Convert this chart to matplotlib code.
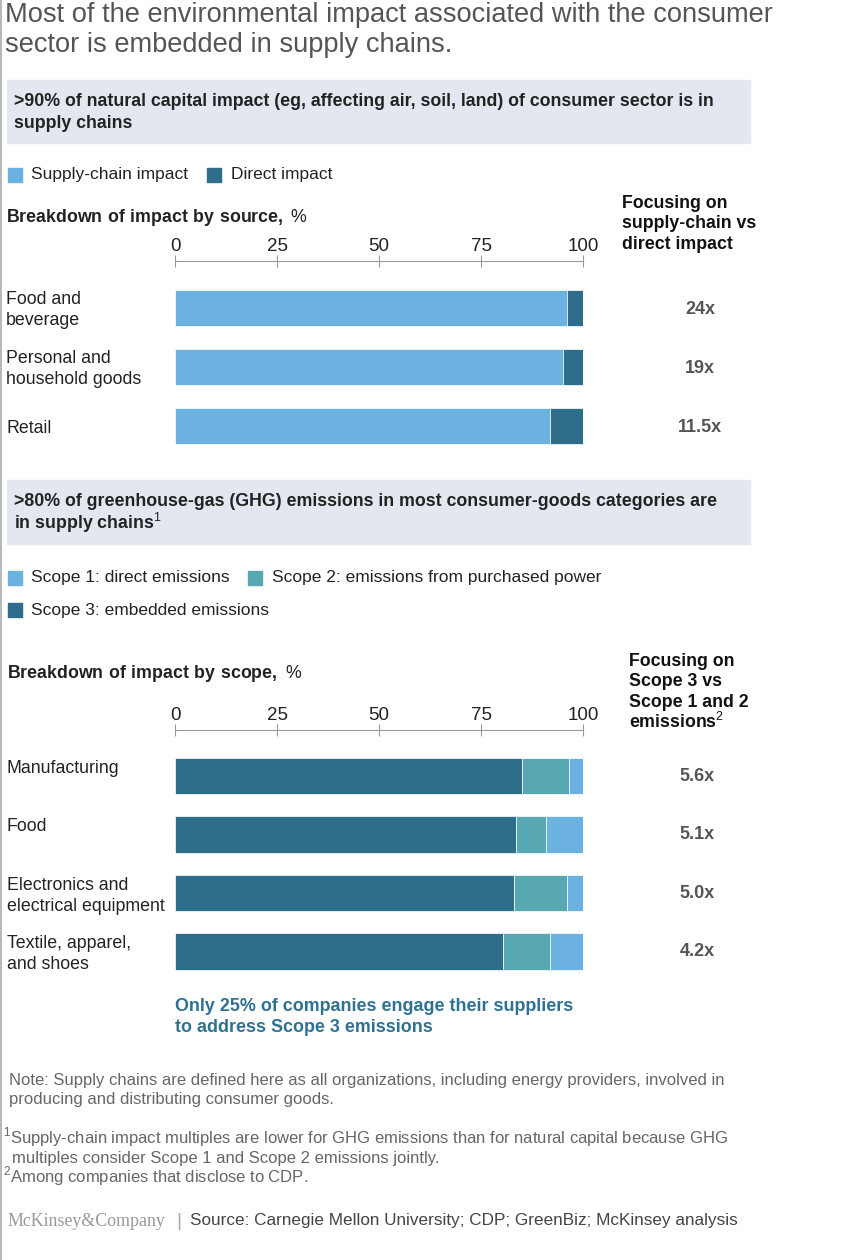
import matplotlib.pyplot as plt
from matplotlib.patches import Rectangle
from matplotlib.lines import Line2D
import matplotlib.transforms as mtransforms

# ---- data ----
sectors = ['Food and\nbeverage', 'Personal and\nhousehold goods', 'Retail']
supply_chain = [96, 95, 92]
direct = [4, 5, 8]
multiples_1 = ['24x', '19x', '11.5x']

categories = ['Manufacturing', 'Food', 'Electronics and\nelectrical equipment',
              'Textile, apparel,\nand shoes']
scope3 = [85, 83.5, 83, 80.5]
scope2 = [11.5, 7.5, 13, 11.5]
scope1 = [3.5, 9, 4, 8]
multiples_2 = ['5.6x', '5.1x', '5.0x', '4.2x']

ticks = [0, 25, 50, 75, 100]

LIGHT = '#6cb2e0'
DARK = '#2f6e8a'
MID = '#57a8b3'
BOX = '#e3e8f0'

W, H = 863, 1260
plt.rcParams['font.family'] = ['Liberation Sans', 'DejaVu Sans']
plt.rcParams['mathtext.fontset'] = 'custom'
plt.rcParams['mathtext.rm'] = 'Liberation Sans'
plt.rcParams['mathtext.bf'] = 'Liberation Sans:bold'
fig = plt.figure(figsize=(W / 100, H / 100), dpi=100)


def fx(x): return x / W
def fy(y): return 1 - y / H


def txt(x, y, s, **kw):
    kw.setdefault('va', 'center')
    kw.setdefault('color', '#222222')
    return fig.text(fx(x), fy(y), s, **kw)


def box(y0, y1):
    fig.patches.append(Rectangle((fx(7), fy(y1)), fx(750) - fx(7), fy(y0) - fy(y1),
                                 transform=fig.transFigure, color=BOX, zorder=0))


def legend_sq(x, y, c):
    fig.patches.append(Rectangle((fx(x), fy(y + 7)), 14 / W, 14 / H,
                                 transform=fig.transFigure, color=c))


def bar_axes(top, bottom, first, step, n):
    ax = fig.add_axes([fx(175), fy(bottom), fx(583) - fx(175), fy(top) - fy(bottom)])
    ax.set_xlim(0, 100)
    ax.set_ylim((bottom - first) / step, (top - first) / step)
    ax.xaxis.tick_top()
    ax.set_xticks(ticks)
    ax.tick_params(axis='x', direction='inout', length=9, color='#999999',
                   labelsize=13.5, labelcolor='#222222', pad=0)
    ax.set_yticks([])
    for s in ['left', 'right', 'bottom']:
        ax.spines[s].set_visible(False)
    ax.spines['top'].set_color('#999999')
    ax.patch.set_alpha(0)
    return ax


# left border
fig.add_artist(Line2D([fx(1), fx(1)], [0, 1], color='#aaaaaa', lw=1.2))

# title
txt(5, 15, 'Most of the environmental impact associated with the consumer', fontsize=19.6, color='#555555')
txt(5, 45, 'sector is embedded in supply chains.', fontsize=19.6, color='#555555')

# ---- panel 1 ----
box(80, 143)
txt(14, 102, '>90% of natural capital impact (eg, affecting air, soil, land) of consumer sector is in',
    fontsize=12.8, fontweight='bold')
txt(14, 123, 'supply chains', fontsize=12.8, fontweight='bold')

legend_sq(8, 175, LIGHT)
txt(31, 175, 'Supply-chain impact', fontsize=12.5)
legend_sq(207, 175, DARK)
txt(231, 175, 'Direct impact', fontsize=12.5)

txt(6, 217, r'$\mathbf{Breakdown\ of\ impact\ by\ source,}$ %', fontsize=12.8)
txt(622, 224, 'Focusing on\nsupply-chain vs\ndirect impact', fontsize=12.8,
    fontweight='bold', linespacing=1.27, color='#111111')

ax1 = bar_axes(261, 455, 308, 59, len(sectors))
y1 = range(len(sectors))
ax1.barh(y1, supply_chain, height=0.6, color=LIGHT, edgecolor='white', lw=0.5)
ax1.barh(y1, direct, left=supply_chain, height=0.6, color=DARK, edgecolor='white', lw=0.5)
tr1 = mtransforms.blended_transform_factory(fig.transFigure, ax1.transData)
for i, (lab, m) in enumerate(zip(sectors, multiples_1)):
    ax1.text(fx(6), i + 0.04, lab, transform=tr1, va='center', ha='left', fontsize=12.8,
             color='#222222', linespacing=1.31)
    ax1.text(fx(700), i + 0.03, m, transform=tr1, va='center', ha='center', fontsize=13,
             fontweight='bold', color='#555555')

# ---- panel 2 ----
box(480, 544)
txt(14, 502, '>80% of greenhouse-gas (GHG) emissions in most consumer-goods categories are',
    fontsize=12.8, fontweight='bold')
txt(14, 523, r'in supply chains$^{\mathrm{1}}$', fontsize=12.8, fontweight='bold')

legend_sq(8, 578, LIGHT)
txt(31, 578, 'Scope 1: direct emissions', fontsize=12.5)
legend_sq(248, 578, MID)
txt(272, 578, 'Scope 2: emissions from purchased power', fontsize=12.5)
legend_sq(8, 610, DARK)
txt(31, 610, 'Scope 3: embedded emissions', fontsize=12.5)

txt(7, 674, r'$\mathbf{Breakdown\ of\ impact\ by\ scope,}$ %', fontsize=12.8)
txt(629, 682, 'Focusing on\nScope 3 vs\nScope 1 and 2', fontsize=12.8,
    fontweight='bold', linespacing=1.27, color='#111111')
txt(629, 722, r'emissions$^{\mathrm{2}}$', fontsize=12.8, fontweight='bold', color='#111111')

ax2 = bar_axes(730, 980, 776, 58.5, len(categories))
y2 = range(len(categories))
left2 = [a + b for a, b in zip(scope3, scope2)]
ax2.barh(y2, scope3, height=0.62, color=DARK, edgecolor='white', lw=0.5)
ax2.barh(y2, scope2, left=scope3, height=0.62, color=MID, edgecolor='white', lw=0.5)
ax2.barh(y2, scope1, left=left2, height=0.62, color=LIGHT, edgecolor='white', lw=0.5)
tr2 = mtransforms.blended_transform_factory(fig.transFigure, ax2.transData)
for i, (lab, m) in enumerate(zip(categories, multiples_2)):
    ax2.text(fx(7), i - 0.28, lab, transform=tr2, va='top', ha='left', fontsize=12.8,
             color='#222222', linespacing=1.31)
    ax2.text(fx(697), i, m, transform=tr2, va='center', ha='center', fontsize=13,
             fontweight='bold', color='#555555')

txt(175, 1017, 'Only 25% of companies engage their suppliers\nto address Scope 3 emissions',
    fontsize=12.9, fontweight='bold', color='#2e7192', linespacing=1.27)

# ---- notes ----
txt(9, 1090, 'Note: Supply chains are defined here as all organizations, including energy providers, involved in\n'
    'producing and distributing consumer goods.', fontsize=12, color='#666666', linespacing=1.3)
txt(3, 1137, r'$^{\mathrm{1}}$Supply-chain impact multiples are lower for GHG emissions than for natural capital because GHG',
    fontsize=12, color='#666666')
txt(12, 1158, 'multiples consider Scope 1 and Scope 2 emissions jointly.', fontsize=12, color='#666666')
txt(3, 1176, r'$^{\mathrm{2}}$Among companies that disclose to CDP.', fontsize=12, color='#666666')

txt(7, 1221, 'McKinsey&Company', fontsize=12.9, family='Liberation Serif', color='#999999')
txt(176, 1221, '|', fontsize=14, color='#aaaaaa')
txt(190, 1221, 'Source: Carnegie Mellon University; CDP; GreenBiz; McKinsey analysis',
    fontsize=12.3, color='#444444')

fig.savefig('out.png', dpi=100)
